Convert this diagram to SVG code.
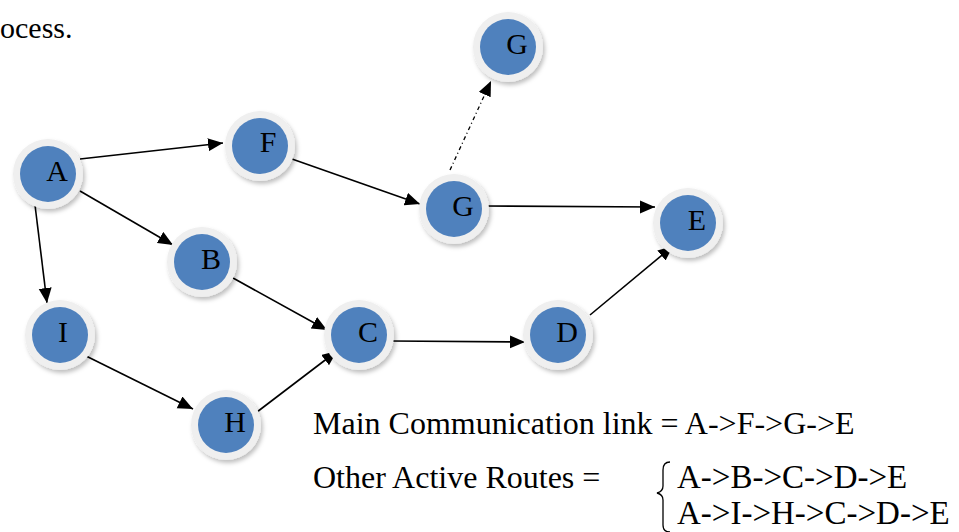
<svg xmlns="http://www.w3.org/2000/svg" width="959" height="532" viewBox="0 0 959 532">
<style>
.t{font-family:"Liberation Serif","Times New Roman",serif;font-size:30px;fill:#000}
.lg{font-family:"Liberation Serif","Times New Roman",serif;font-size:32px;fill:#000}
.rt{font-family:"Liberation Serif","Times New Roman",serif;font-size:33px;fill:#000}
.nl{font-family:"Liberation Serif","Times New Roman",serif;font-size:30px;fill:#000;text-anchor:middle}
.ring{fill:#efefef}
.core{fill:#4f81bd}
.e{stroke:#000;stroke-width:1.6;fill:none;marker-end:url(#ah)}
.d{stroke:#000;stroke-width:1.3;fill:none;stroke-dasharray:4 3 1 3;marker-end:url(#ah)}
</style>
<defs>
<marker id="ah" markerUnits="userSpaceOnUse" markerWidth="16" markerHeight="14" refX="15" refY="6.5" orient="auto">
<path d="M0,0 L15,6.5 L0,13 z" fill="#000"/>
</marker>
<filter id="sh" x="-30%" y="-30%" width="160%" height="160%">
<feDropShadow dx="2" dy="3" stdDeviation="2" flood-color="#000" flood-opacity="0.25"/>
</filter>
</defs>
<rect width="959" height="532" fill="#fff"/>
<text class="t" x="0" y="38">ocess.</text>
<g id="connectors">
<line class="e" x1="80" y1="159" x2="223" y2="143"/>
<line class="e" x1="292" y1="159" x2="420" y2="204"/>
<line class="e" x1="80" y1="191" x2="173" y2="245"/>
<line class="e" x1="35" y1="205" x2="47" y2="303"/>
<line class="e" x1="233" y1="278" x2="327" y2="330"/>
<line class="e" x1="80" y1="353" x2="193" y2="409"/>
<line class="e" x1="257" y1="412" x2="337" y2="351"/>
<line class="e" x1="391" y1="341" x2="525" y2="342"/>
<line class="e" x1="590" y1="315" x2="673" y2="246"/>
<line class="e" x1="485" y1="206" x2="655" y2="207"/>
<line class="d" x1="450" y1="170" x2="491" y2="81"/>
</g>
<g id="nodeA"><circle class="ring" cx="48" cy="174" r="35" filter="url(#sh)"/><circle class="core" cx="48" cy="174" r="28"/><text class="nl" x="57" y="181">A</text></g>
<g id="nodeF"><circle class="ring" cx="260" cy="146" r="35" filter="url(#sh)"/><circle class="core" cx="260" cy="146" r="28"/><text class="nl" x="268" y="152">F</text></g>
<g id="nodeG1"><circle class="ring" cx="454" cy="209" r="35" filter="url(#sh)"/><circle class="core" cx="454" cy="209" r="28"/><text class="nl" x="463" y="216">G</text></g>
<g id="nodeG2"><circle class="ring" cx="508" cy="47" r="35" filter="url(#sh)"/><circle class="core" cx="508" cy="47" r="28"/><text class="nl" x="517" y="54">G</text></g>
<g id="nodeE"><circle class="ring" cx="688" cy="223" r="35" filter="url(#sh)"/><circle class="core" cx="688" cy="223" r="28"/><text class="nl" x="697" y="230">E</text></g>
<g id="nodeB"><circle class="ring" cx="202" cy="262" r="35" filter="url(#sh)"/><circle class="core" cx="202" cy="262" r="28"/><text class="nl" x="211" y="269">B</text></g>
<g id="nodeI"><circle class="ring" cx="60" cy="335" r="35" filter="url(#sh)"/><circle class="core" cx="60" cy="335" r="28"/><text class="nl" x="63" y="342">I</text></g>
<g id="nodeC"><circle class="ring" cx="359" cy="335" r="35" filter="url(#sh)"/><circle class="core" cx="359" cy="335" r="28"/><text class="nl" x="368" y="342">C</text></g>
<g id="nodeD"><circle class="ring" cx="558" cy="335" r="35" filter="url(#sh)"/><circle class="core" cx="558" cy="335" r="28"/><text class="nl" x="567" y="342">D</text></g>
<g id="nodeH"><circle class="ring" cx="226" cy="425" r="35" filter="url(#sh)"/><circle class="core" cx="226" cy="425" r="28"/><text class="nl" x="235" y="432">H</text></g>
<g id="legend">
<text class="lg" x="313" y="434">Main Communication link = A-&gt;F-&gt;G-&gt;E</text>
<text class="lg" x="313" y="488">Other Active Routes =</text>
<path d="M670,462 C665,462 663,465 663,470 L663,486 C663,490 661,492 657,493 C661,494 663,496 663,500 L663,525 C663,529 665,532 670,532" stroke="#000" stroke-width="1.3" fill="none"/>
<text class="rt" x="677" y="488">A-&gt;B-&gt;C-&gt;D-&gt;E</text>
<text class="rt" x="677" y="524">A-&gt;I-&gt;H-&gt;C-&gt;D-&gt;E</text>
</g>
</svg>
